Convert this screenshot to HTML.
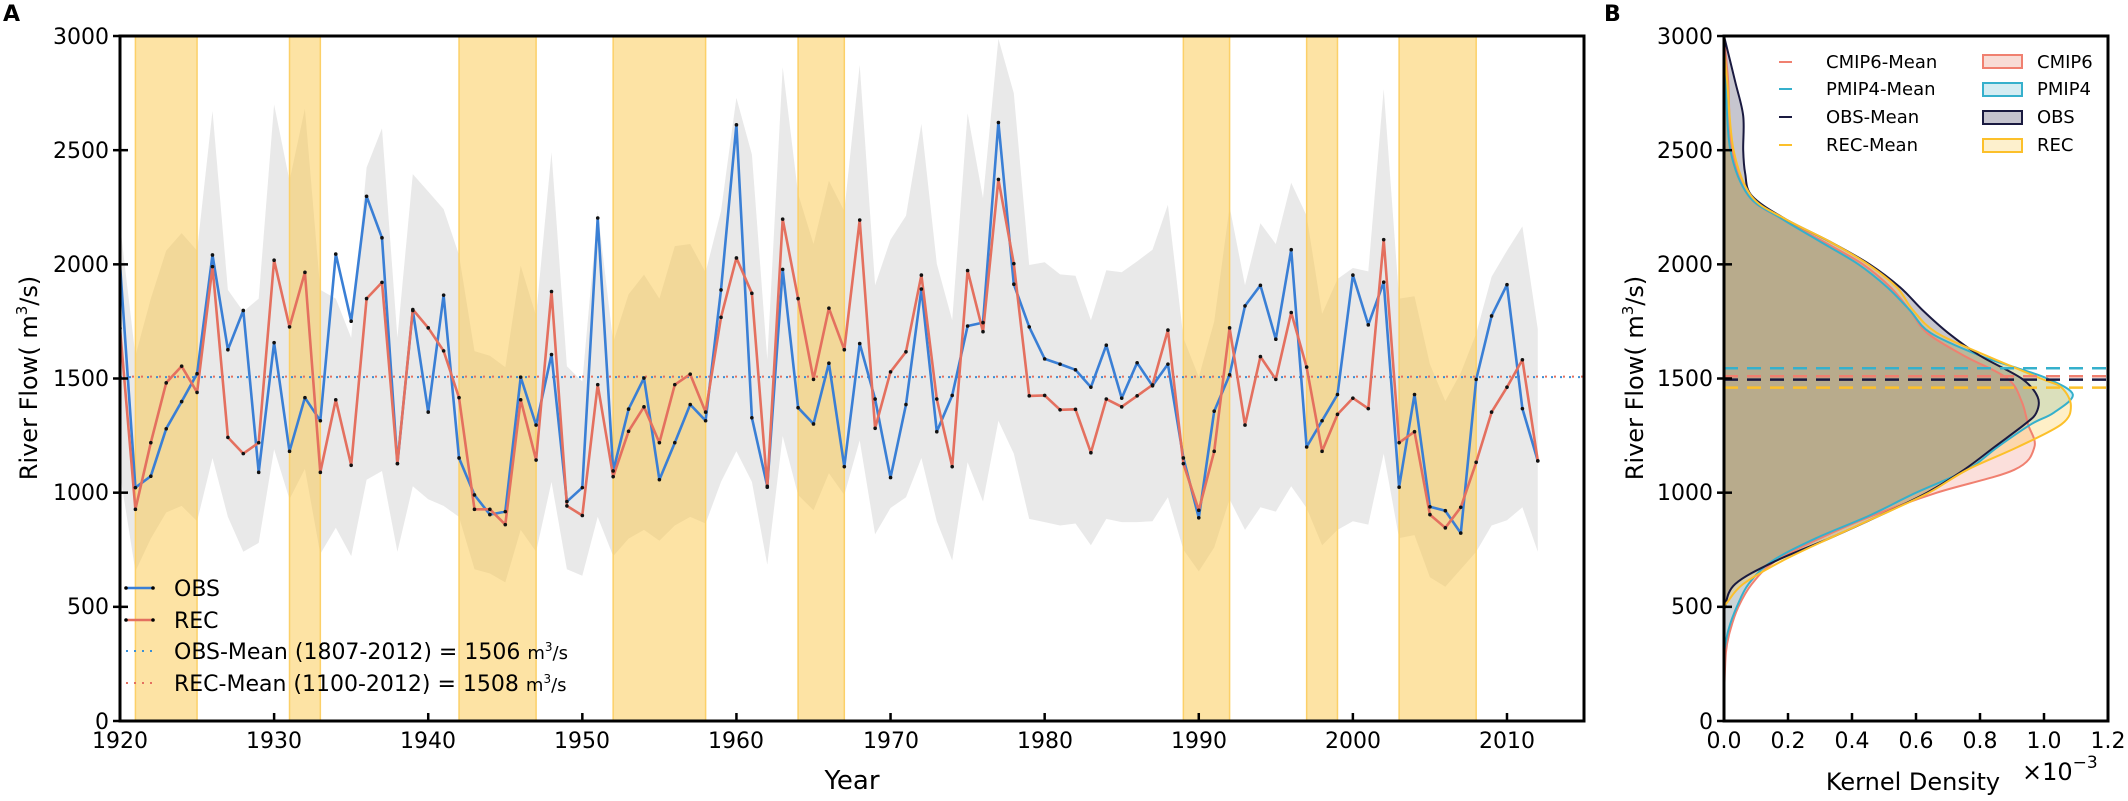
<!DOCTYPE html>
<html><head><meta charset="utf-8"><style>
html,body{margin:0;padding:0;background:#fff}
svg{display:block;font-family:"DejaVu Sans","Liberation Sans",sans-serif}
</style></head><body>
<svg id="s" width="2128" height="801" viewBox="0 0 2128 801" xmlns="http://www.w3.org/2000/svg">
<defs>
<clipPath id="ca"><rect x="120" y="36" width="1464" height="685"/></clipPath>
<clipPath id="cb"><rect x="1724" y="36" width="384" height="685"/></clipPath>
</defs>
<rect width="2128" height="801" fill="#fff"/>
<g id="A" clip-path="url(#ca)"></g>
<g id="B" clip-path="url(#cb)"></g>
<g id="axes"></g>
<text x="3" y="21" font-size="22" font-weight="bold">A</text>
<text x="1604" y="21" font-size="22" font-weight="bold">B</text>
<g font-size="22" text-anchor="end">
<text x="109" y="44">3000</text><text x="109" y="158">2500</text><text x="109" y="272">2000</text>
<text x="109" y="386">1500</text><text x="109" y="500">1000</text><text x="109" y="614">500</text><text x="109" y="729">0</text>
<text x="1713" y="44">3000</text><text x="1713" y="158">2500</text><text x="1713" y="272">2000</text>
<text x="1713" y="386">1500</text><text x="1713" y="500">1000</text><text x="1713" y="614">500</text><text x="1713" y="729">0</text>
</g>
<g font-size="22" text-anchor="middle">
<text x="120" y="748">1920</text><text x="274" y="748">1930</text><text x="428" y="748">1940</text>
<text x="582" y="748">1950</text><text x="736" y="748">1960</text><text x="891" y="748">1970</text>
<text x="1045" y="748">1980</text><text x="1199" y="748">1990</text><text x="1353" y="748">2000</text><text x="1507" y="748">2010</text>
<text x="1724" y="748">0.0</text><text x="1788" y="748">0.2</text><text x="1852" y="748">0.4</text>
<text x="1916" y="748">0.6</text><text x="1980" y="748">0.8</text><text x="2044" y="748">1.0</text><text x="2108" y="748">1.2</text>
</g>
<text x="852" y="789" font-size="26" text-anchor="middle">Year</text>
<text x="1913" y="790" font-size="24" text-anchor="middle">Kernel Density</text>
<text x="2022" y="780" font-size="24">×10<tspan font-size="17" dy="-12">−3</tspan></text>
<text transform="translate(37,378) rotate(-90)" font-size="24" text-anchor="middle">River Flow( m<tspan font-size="15" dy="-10">3</tspan><tspan dy="10">/s)</tspan></text>
<text transform="translate(1643,378) rotate(-90)" font-size="24" text-anchor="middle">River Flow( m<tspan font-size="15" dy="-10">3</tspan><tspan dy="10">/s)</tspan></text>
<g font-size="22">
<line x1="126" y1="588" x2="153" y2="588" stroke="#3a7fd5" stroke-width="2.5"/><circle cx="126" cy="588" r="1.8"/><circle cx="153" cy="588" r="1.8"/>
<line x1="126" y1="620" x2="153" y2="620" stroke="#e4705f" stroke-width="2.5"/><circle cx="126" cy="620" r="1.8"/><circle cx="153" cy="620" r="1.8"/>
<line x1="126" y1="651" x2="153" y2="651" stroke="#3a8fd5" stroke-width="2" stroke-dasharray="2,6"/>
<line x1="126" y1="683" x2="153" y2="683" stroke="#e4705f" stroke-width="2" stroke-dasharray="2,6"/>
<text x="174" y="596">OBS</text>
<text x="174" y="628">REC</text>
<text x="174" y="659">OBS-Mean (1807-2012) = 1506 <tspan font-size="18">m<tspan font-size="12" dy="-8">3</tspan><tspan dy="8">/s</tspan></tspan></text>
<text x="174" y="691">REC-Mean (1100-2012) = 1508 <tspan font-size="18">m<tspan font-size="12" dy="-8">3</tspan><tspan dy="8">/s</tspan></tspan></text>
</g>
<g font-size="18">
<line x1="1779" y1="62" x2="1792" y2="62" stroke="#f08070" stroke-width="2"/>
<line x1="1779" y1="89" x2="1792" y2="89" stroke="#35b0cc" stroke-width="2"/>
<line x1="1779" y1="117" x2="1792" y2="117" stroke="#1a1a40" stroke-width="2"/>
<line x1="1779" y1="145" x2="1792" y2="145" stroke="#fcc02a" stroke-width="2"/>
<text x="1826" y="68">CMIP6-Mean</text><text x="1826" y="95">PMIP4-Mean</text>
<text x="1826" y="123">OBS-Mean</text><text x="1826" y="151">REC-Mean</text>
<rect x="1983" y="55" width="39" height="13" fill="#f8dcd6" stroke="#f08070" stroke-width="2"/>
<rect x="1983" y="83" width="39" height="13" fill="#d3ecf2" stroke="#35b0cc" stroke-width="2"/>
<rect x="1983" y="111" width="39" height="13" fill="#c5c4ce" stroke="#1a1a40" stroke-width="2"/>
<rect x="1983" y="139" width="39" height="13" fill="#fdf0cd" stroke="#fcc02a" stroke-width="2"/>
<text x="2037" y="68">CMIP6</text><text x="2037" y="95">PMIP4</text><text x="2037" y="123">OBS</text><text x="2037" y="151">REC</text>
</g>
</svg>
<script>
(function(){
var NS="http://www.w3.org/2000/svg";
function el(p,t,a){var e=document.createElementNS(NS,t);for(var k in a)e.setAttribute(k,a[k]);p.appendChild(e);return e;}
var X=function(yr){return 120+(yr-1920)*15.411;};
var Y=function(v){return 721-v*0.22833;};
var obs=[2000,1022,1072,1280,1399,1521,2041,1626,1798,1089,1657,1181,1416,1315,2045,1751,2298,2116,1127,1798,1353,1865,1152,990,
904,917,1506,1296,1605,961,1022,2203,1095,1366,1502,1057,1219,1386,1315,1888,2611,1328,1028,1978,1372,1301,1567,1114,
1653,1410,1066,1386,1892,1267,1426,1730,1745,2621,1913,1726,1586,1563,1538,1462,1646,1414,1569,1468,1563,1152,890,
1357,1516,1818,1908,1672,2064,1200,1315,1430,1953,1735,1922,1024,1430,938,921,823,1496,1774,1911,1368,1139];
var rec=[1720,927,1219,1481,1554,1439,1990,1242,1171,1219,2018,1726,1965,1089,1407,1120,1850,1921,1127,1802,1722,1621,1416,927,
927,860,1407,1143,1881,942,900,1473,1070,1269,1376,1219,1473,1519,1353,1768,2028,1873,1024,2198,1850,1496,1808,1626,
2194,1282,1529,1617,1953,1410,1114,1973,1705,2372,2003,1424,1426,1363,1365,1175,1410,1376,1424,1472,1712,1127,923,
1181,1722,1296,1596,1496,1789,1550,1181,1343,1414,1368,2108,1219,1267,904,846,936,1133,1353,1462,1582,1139];
var up=[2175,1600,1850,2060,2137,2060,2672,1888,1793,1850,2700,2366,2682,1888,1850,1678,2424,2596,1678,2395,2319,2242,2041,1620,
1600,1550,1994,1774,2491,1554,1487,2233,1659,1869,1955,1850,2080,2089,1965,2233,2730,2481,1582,2864,2309,2089,2366,2233,
2873,1908,2108,2213,2615,2003,1755,2662,2290,2988,2749,1997,2009,1956,1950,1755,1974,1965,2013,2064,2261,1678,1506,
1750,2252,1908,2180,2089,2357,2213,1783,1936,1984,1969,2768,1850,1860,1563,1401,1525,1697,1946,2060,2166,1716];
var lo=[1085,655,799,913,942,875,1152,894,741,780,1190,971,1104,732,846,722,1057,1095,741,1028,971,942,894,665,
646,607,837,741,1047,665,636,894,722,799,837,789,856,894,865,1047,1181,1047,684,1248,990,923,1085,990,
1229,818,933,980,1152,875,703,1133,961,1315,1171,885,871,856,865,770,885,871,871,875,980,750,655,
760,971,837,936,917,1028,933,770,837,875,860,1171,801,814,630,588,665,741,856,879,936,741];
var A=document.getElementById("A");
var d="M";for(var i=0;i<up.length;i++)d+=X(1920+i).toFixed(1)+","+Y(up[i]).toFixed(1)+" L";
for(var i=lo.length-1;i>=0;i--)d+=X(1920+i).toFixed(1)+","+Y(lo[i]).toFixed(1)+(i?" L":" Z");
el(A,"path",{d:d,fill:"#e9e9e9"});
[[1921,1925],[1931,1933],[1942,1947],[1952,1958],[1964,1967],[1989,1992],[1997,1999],[2003,2008]].forEach(function(b){
el(A,"rect",{x:X(b[0]),y:36,width:X(b[1])-X(b[0]),height:685,fill:"#fcc84a","fill-opacity":"0.5",stroke:"#fcd068","stroke-width":"1.5"});});
el(A,"line",{x1:120,x2:1584,y1:Y(1506),y2:Y(1506),stroke:"#3a8fd5","stroke-width":2,"stroke-dasharray":"2,7"});
el(A,"line",{x1:123,x2:1584,y1:Y(1508),y2:Y(1508),stroke:"#e4705f","stroke-width":2,"stroke-dasharray":"2,7"});
function series(arr,c){var p="";for(var i=0;i<arr.length;i++)p+=(i?"L":"M")+X(1920+i).toFixed(1)+","+Y(arr[i]).toFixed(1);
el(A,"path",{d:p,fill:"none",stroke:c,"stroke-width":2.6,"stroke-linejoin":"round"});}
series(obs,"#3a7fd5");series(rec,"#e4705f");
[obs,rec].forEach(function(arr){for(var i=0;i<arr.length;i++)el(A,"circle",{cx:X(1920+i),cy:Y(arr[i]),r:1.8,fill:"#111"});});
var B=document.getElementById("B");
var XB=function(dd){return 1724+dd*320;};
function cr(pts){
var P=pts.map(function(p){return [XB(p[1]),Y(p[0])];});
var s="M"+P[0][0]+","+P[0][1];
for(var i=0;i<P.length-1;i++){var p0=P[i-1]||P[i],p1=P[i],p2=P[i+1],p3=P[i+2]||P[i+1];
s+=" C"+(p1[0]+(p2[0]-p0[0])/6).toFixed(1)+","+(p1[1]+(p2[1]-p0[1])/6).toFixed(1)+" "+(p2[0]-(p3[0]-p1[0])/6).toFixed(1)+","+(p2[1]-(p3[1]-p1[1])/6).toFixed(1)+" "+p2[0].toFixed(1)+","+p2[1].toFixed(1);}
return s;}
var cm=[[3000,0],[2800,0.013],[2500,0.025],[2300,0.077],[2200,0.18],[2100,0.31],[2000,0.434],[1900,0.52],[1800,0.58],[1700,0.634],[1600,0.75],[1500,0.886],[1400,0.93],[1300,0.95],[1200,0.97],[1100,0.907],[1000,0.665],[900,0.466],[800,0.30],[700,0.16],[600,0.087],[500,0.045],[400,0.02],[300,0.006],[100,0]];
var pm=[[2900,0],[2800,0.005],[2500,0.02],[2300,0.077],[2200,0.18],[2100,0.30],[2000,0.42],[1900,0.51],[1800,0.58],[1700,0.645],[1600,0.80],[1550,0.907],[1500,1.01],[1430,1.09],[1350,1.03],[1300,0.96],[1200,0.855],[1100,0.76],[1000,0.60],[900,0.455],[800,0.287],[700,0.15],[600,0.077],[500,0.04],[400,0.014],[300,0]];
var ob=[[3000,0],[2800,0.035],[2650,0.06],[2500,0.06],[2400,0.066],[2300,0.087],[2200,0.19],[2100,0.33],[2000,0.455],[1900,0.55],[1800,0.62],[1700,0.70],[1600,0.80],[1500,0.93],[1420,0.98],[1350,0.976],[1300,0.94],[1200,0.845],[1100,0.75],[1000,0.634],[900,0.487],[800,0.33],[700,0.16],[600,0.035],[500,0.003],[450,0]];
var re=[[2950,0],[2800,0.01],[2500,0.03],[2300,0.085],[2200,0.19],[2100,0.33],[2000,0.45],[1900,0.54],[1800,0.59],[1700,0.665],[1600,0.82],[1500,0.99],[1460,1.055],[1380,1.084],[1300,1.055],[1200,0.918],[1100,0.76],[1000,0.64],[900,0.487],[800,0.33],[700,0.18],[600,0.06],[520,0.01],[500,0]];
function kde(pts,fill){var s=cr(pts);
var f=s+" L"+XB(0)+","+Y(pts[pts.length-1][0])+" L"+XB(0)+","+Y(pts[0][0])+" Z";
el(B,"path",{d:f,fill:fill,"fill-opacity":0.25,stroke:"none"});return s;}
var sc=kde(cm,"#f08070"),sp=kde(pm,"#40b0c8"),so=kde(ob,"#1a1a40"),sr=kde(re,"#ffc020");
el(B,"path",{d:sc,fill:"none",stroke:"#f08070","stroke-width":2});
el(B,"path",{d:sp,fill:"none",stroke:"#35b0cc","stroke-width":2});
el(B,"path",{d:so,fill:"none",stroke:"#1a1a40","stroke-width":2});
el(B,"path",{d:sr,fill:"none",stroke:"#fcc02a","stroke-width":2});
[[1545,"#35b0cc"],[1510,"#f08070"],[1495,"#1a1a40"],[1460,"#fcc02a"]].forEach(function(m){
el(B,"line",{x1:1724,x2:2108,y1:Y(m[0]),y2:Y(m[0]),stroke:m[1],"stroke-width":2.5,"stroke-dasharray":"14,9"});});
var G=document.getElementById("axes");
el(G,"rect",{x:120,y:36,width:1464,height:685,fill:"none",stroke:"#000","stroke-width":3});
el(G,"rect",{x:1724,y:36,width:384,height:685,fill:"none",stroke:"#000","stroke-width":3});
for(var v=0;v<=3000;v+=500){var yy=Y(v);
el(G,"line",{x1:113,x2:128,y1:yy,y2:yy,stroke:"#000","stroke-width":2.5});
el(G,"line",{x1:1717,x2:1732,y1:yy,y2:yy,stroke:"#000","stroke-width":2.5});}
for(var yr=1930;yr<=2010;yr+=10)el(G,"line",{x1:X(yr),x2:X(yr),y1:721,y2:713,stroke:"#000","stroke-width":2.5});
for(var k=1;k<6;k++)el(G,"line",{x1:1724+k*64,x2:1724+k*64,y1:721,y2:713,stroke:"#000","stroke-width":2.5});
})();
</script>
</body></html>
